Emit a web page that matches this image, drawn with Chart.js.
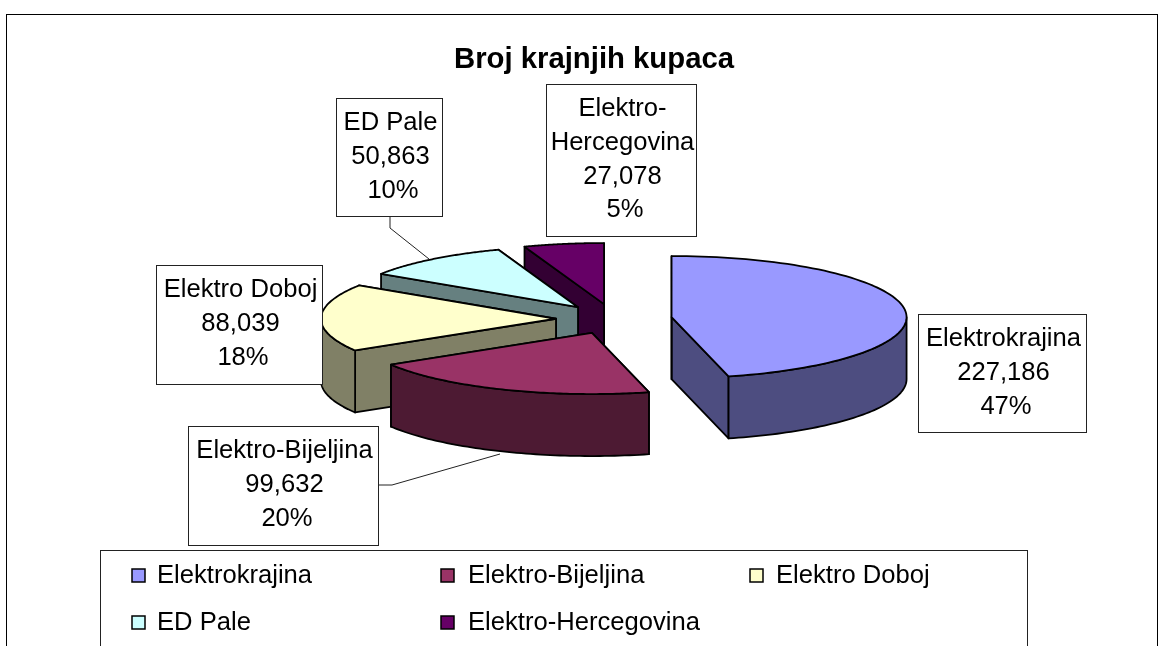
<!DOCTYPE html>
<html>
<head>
<meta charset="utf-8">
<script src="https://cdn.jsdelivr.net/npm/chart.js@4"></script>
<style>
html,body{margin:0;padding:0;background:#fff;overflow:hidden;width:1164px;height:646px}
#frame{position:absolute;left:6px;top:14px;width:1150px;height:700px;border:1px solid #000;box-sizing:content-box}
#wrap{position:absolute;left:24px;top:0;width:1140px;height:646px}
</style>
</head>
<body>
<div id="frame"></div>
<div id="wrap"><canvas id="c" width="1140" height="646"></canvas></div>
<script>
const categories = ['Elektrokrajina','Elektro-Bijeljina','Elektro Doboj','ED Pale','Elektro-Hercegovina'];
const customers = [227186, 99632, 88039, 50863, 27078];
const percentLabels = ['47%','20%','18%','10%','5%'];
const topColors = ['#9999FF','#993366','#FFFFCC','#CCFFFF','#660066'];
const wallColors = ['#4D4D80','#4D1A33','#808066','#668080','#330033'];
const titleText = 'Broj krajnjih kupaca';

// layout (page pixels)
const canvasLeft = 24;
const pieShiftX = 20, pieCenterY = 319, squash = 0.26, depth = 62;
const FONT = '"Liberation Sans", Arial, sans-serif';
const labelBoxes = [
  {box:[918,314,168,118], lines:['Elektrokrajina']},
  {box:[188,426,190,119], lines:['Elektro-Bijeljina'], leader:[[378,485],[392,485],[500,454]]},
  {box:[156,265,166,119], lines:['Elektro Doboj']},
  {box:[336,98,106,118], lines:['ED Pale'], leader:[[390,216],[390,228],[429,259]]},
  {box:[546,84,150,152], lines:['Elektro-','Hercegovina']}
];
const legendBox = [100,550,927,120];
const legendCols = [132,441,750], legendRows = [569,616];
const legendTextX = [157,468,776];
const legendOrder = [[0,0,0],[1,1,0],[2,2,0],[3,0,1],[4,1,1]];

const pie3d = {
  id:'pie3d',
  beforeDatasetDraw(chart){
    const ctx = chart.ctx, arcs = chart.getDatasetMeta(0).data;
    ctx.save();
    ctx.lineJoin='round';
    // back to front: last slices first, the first slice last
    for (let i = arcs.length-1; i >= 0; i--) {
      const el = arcs[i];
      const {x,startAngle:a0,endAngle:a1,outerRadius:R} = el.getProps(['x','startAngle','endAngle','outerRadius'],true);
      const off = el.options.offset, mid=(a0+a1)/2;
      const cx = x + pieShiftX + off*Math.cos(mid);
      const cy = pieCenterY + off*Math.sin(mid)*squash;
      const P = (a,d=0)=>[cx+R*Math.cos(a), cy+R*Math.sin(a)*squash+d];
      const apex=[cx,cy];
      const poly=(pts,fill)=>{
        ctx.beginPath(); pts.forEach((p,k)=>k?ctx.lineTo(p[0],p[1]):ctx.moveTo(p[0],p[1])); ctx.closePath();
        ctx.fillStyle=fill; ctx.lineWidth=1.8; ctx.strokeStyle='#000'; ctx.fill(); ctx.stroke();
      };
      const bottomApex=[cx,cy+depth];
      poly([apex,P(a1),P(a1,depth),bottomApex],wallColors[i]);
      poly([apex,P(a0),P(a0,depth),bottomApex],wallColors[i]);
      // curved outer wall: only the part on the near half of the ellipse
      const w0=Math.max(a0,0), w1=Math.min(a1,Math.PI);
      if (w1>w0){
        const pts=[], n=60;
        for(let k=0;k<=n;k++) pts.push(P(w0+(w1-w0)*k/n));
        for(let k=n;k>=0;k--) pts.push(P(w0+(w1-w0)*k/n,depth));
        poly(pts,wallColors[i]);
      }
      // top face
      const pts=[apex], n=90;
      for(let k=0;k<=n;k++) pts.push(P(a0+(a1-a0)*k/n));
      poly(pts,topColors[i]);
    }
    ctx.restore();
    return false;
  },
  afterDraw(chart){
    const ctx=chart.ctx;
    ctx.save();
    ctx.translate(-canvasLeft,0);
    ctx.textBaseline='alphabetic';
    ctx.font='25.6px '+FONT;
    // callouts
    labelBoxes.forEach((b,i)=>{
      const [x,y,w,h]=b.box;
      ctx.fillStyle='#fff'; ctx.strokeStyle='#222'; ctx.lineWidth=1;
      ctx.fillRect(x,y,w,h); ctx.strokeRect(x+.5,y+.5,w,h);
      if(b.leader){
        ctx.beginPath(); b.leader.forEach((p,k)=>k?ctx.lineTo(p[0],p[1]):ctx.moveTo(p[0],p[1])); ctx.stroke();
      }
      ctx.fillStyle='#000'; ctx.textAlign='center';
      const lines=[...b.lines, customers[i].toLocaleString('en-US')];
      lines.forEach((t,k)=>ctx.fillText(t,x+w/2+1.5,y+32+k*33.8));
      ctx.fillText(percentLabels[i],x+w/2+4,y+32+lines.length*33.8);
    });
    // legend
    const [lx,ly,lw,lh]=legendBox;
    ctx.strokeStyle='#222'; ctx.lineWidth=1; ctx.strokeRect(lx+.5,ly+.5,lw,lh);
    ctx.textAlign='left';
    legendOrder.forEach(([i,c,r])=>{
      const sx=legendCols[c], sy=legendRows[r];
      ctx.fillStyle=topColors[i]; ctx.strokeStyle='#000'; ctx.lineWidth=1.5;
      ctx.fillRect(sx,sy,13,13); ctx.strokeRect(sx,sy,13,13);
      ctx.fillStyle='#000';
      ctx.fillText(categories[i],legendTextX[c],sy+14);
    });
    ctx.restore();
  }
};

new Chart(document.getElementById('c'),{
  type:'pie',
  data:{labels:categories,datasets:[{data:customers,backgroundColor:topColors,offset:58,radius:235,borderWidth:0}]},
  options:{
    responsive:false,animation:false,
    plugins:{
      legend:{display:false},
      tooltip:{enabled:false},
      title:{display:true,text:titleText,color:'#000',font:{family:FONT,size:29.3,weight:'bold'},padding:{top:42,bottom:0}}
    }
  },
  plugins:[pie3d]
});
</script>
</body>
</html>
